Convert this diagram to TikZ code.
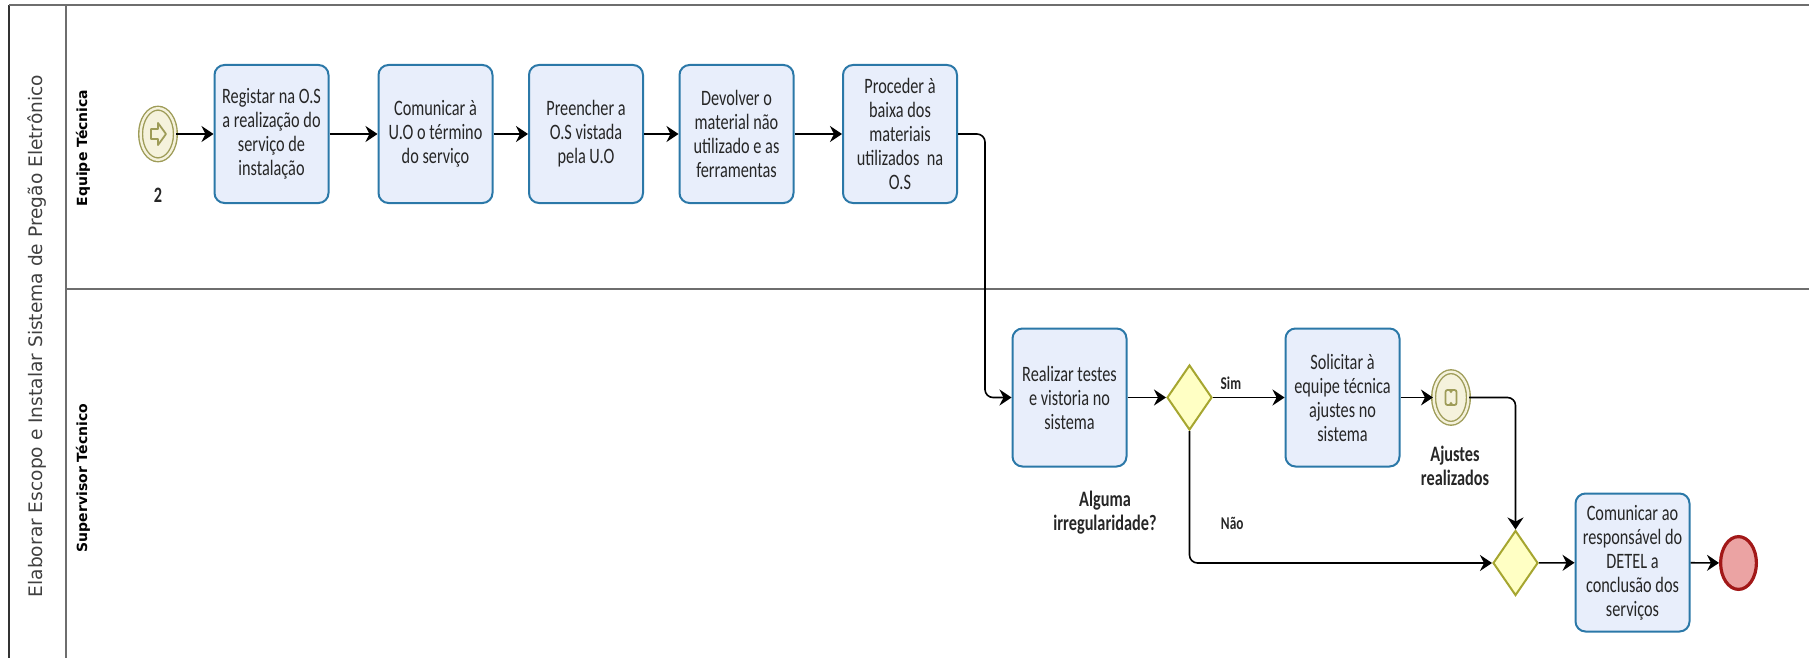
\documentclass[tikz,border=0pt]{standalone}
\usepackage{fontspec}
\usepackage{tikz}
\usetikzlibrary{shapes.geometric, arrows.meta}
\newfontfamily\boxfont[FakeStretch=0.74]{Carlito}
\newfontfamily\poolfont{DejaVu Sans}
\definecolor{taskfill}{HTML}{E8EEFB}
\definecolor{taskline}{HTML}{2B78A8}
\definecolor{gwfill}{HTML}{FFFFC4}
\definecolor{gwline}{HTML}{A6A630}
\definecolor{evfill}{HTML}{F5F2DC}
\definecolor{evline}{HTML}{9E9C58}
\definecolor{endfill}{HTML}{EBA3A3}
\definecolor{endline}{HTML}{A21818}
\definecolor{poolline}{HTML}{6E6E6E}
\tikzstyle{flow} = [thick,->,>={Stealth[length=6pt,width=8pt,inset=2pt]}]
\tikzstyle{task} = [rectangle, rounded corners=5pt, draw=taskline, fill=taskfill, line width=1pt, minimum width=57pt, minimum height=69pt, align=center, inner sep=2pt, text=black!85, font=\boxfont\fontsize{11}{12}\selectfont]
\tikzstyle{gateway} = [diamond, draw=gwline, fill=gwfill, line width=1pt, minimum width=22.5pt, minimum height=32.5pt, inner sep=0pt]
\tikzstyle{event} = [ellipse, draw=evline, fill=evfill, line width=0.7pt, double=evfill, double distance=1.2pt, minimum width=17.4pt, minimum height=25.8pt, inner sep=0pt]
\tikzstyle{endevent} = [ellipse, draw=endline, fill=endfill, line width=1.6pt, minimum width=17.9pt, minimum height=26.4pt, inner sep=0pt]
\tikzstyle{lbl} = [align=center, text=black!85, font=\boxfont\bfseries\fontsize{11}{12}\selectfont]
\tikzstyle{small} = [text=black!85, font=\boxfont\bfseries\fontsize{9}{10}\selectfont]
\tikzstyle{lane} = [rotate=90, font=\poolfont\bfseries\fontsize{7}{8}\selectfont]

\begin{document}
\begin{tikzpicture}[x=0.5pt, y=-0.5pt]
	\useasboundingbox (0,0) rectangle (1809,658);
	% pool and lanes
	\draw[black!80, line width=1pt] (9,658) -- (9,5);
	\draw[poolline, line width=1pt] (9,5) -- (1809,5);
	\draw[poolline, line width=1pt] (66,5) -- (66,658);
	\draw[poolline, line width=1pt] (66,289) -- (1809,289);
	\node[rotate=90, text=black!75, font=\poolfont\fontsize{9.3}{11}\selectfont] (pool) at (37,336) {Elaborar Escopo e Instalar Sistema de Pregão Eletrônico};
	\node[lane] (equipe) at (83,148) {Equipe Técnica};
	\node[lane] (superv) at (83,478) {Supervisor Técnico};

	% equipe tecnica
	\node[event] (start) at (158,134) {};
	\draw[evline, line width=0.9pt, line join=round] (start) ++(-7,-5) -- ++(7,0) -- ++(0,-6) -- ++(8,11) -- ++(-8,11) -- ++(0,-6) -- ++(-7,0) -- cycle;
	\node[lbl] (num) at (158,195) {2};
	\node[task] (reg) at (271.5,134) {Registar na O.S\\a realização do\\serviço de\\instalação};
	\node[task] (com) at (435.5,134) {Comunicar à\\U.O o término\\do serviço};
	\node[task] (pre) at (586,134) {Preencher a\\O.S vistada\\pela U.O};
	\node[task] (dev) at (736.5,134) {Devolver o\\material não\\utilizado e as\\ferramentas};
	\node[task] (bai) at (900,134) {Proceder à\\baixa dos\\materiais\\utilizados~ na\\O.S};

	% supervisor tecnico
	\node[task] (tes) at (1069.5,397.5) {Realizar testes\\e vistoria no\\sistema};
	\node[gateway] (irr) at (1189.5,397.5) {};
	\node[lbl] (irrlbl) at (1105,513) {Alguma\\irregularidade?};
	\node[task] (sol) at (1342.5,397.5) {Solicitar à\\equipe técnica\\ajustes no\\sistema};
	\node[event] (aju) at (1451,397.5) {};
	\draw[evline, line width=0.9pt, rounded corners=1pt] ([shift={(-5.5,-7.5)}]aju.center) rectangle ([shift={(5.5,7.5)}]aju.center);
	\fill[evline] ([yshift=-3]aju.center) circle[radius=0.8pt] ([yshift=3]aju.center) circle[radius=0.8pt];
	\node[lbl] (ajulbl) at (1455,466) {Ajustes\\realizados};
	\node[gateway] (jun) at (1515.5,563) {};
	\node[task] (cdt) at (1632.5,562.5) {Comunicar ao\\responsável do\\DETEL a\\conclusão dos\\serviços};
	\node[endevent] (fim) at (1738.5,563) {};

	% connectors
	\draw[flow] (start) -- (reg);
	\draw[flow] (reg) -- (com);
	\draw[flow] (com) -- (pre);
	\draw[flow] (pre) -- (dev);
	\draw[flow] (dev) -- (bai);
	\draw[flow, rounded corners=4pt] (bai.east) -- ++(27,0) |- (tes);
	\draw[flow] (tes) -- (irr);
	\draw[flow] (irr) -- node[small, above, pos=0.25] {Sim} (sol);
	\draw[flow] (sol) -- (aju);
	\draw[flow, rounded corners=4pt] (aju) -| (jun);
	\draw[flow, rounded corners=4pt] (irr) |- node[small, pos=0.35, right=12pt] {Não} (jun);
	\draw[flow] (jun) -- (cdt);
	\draw[flow] (cdt) -- (fim);
\end{tikzpicture}
\end{document}
